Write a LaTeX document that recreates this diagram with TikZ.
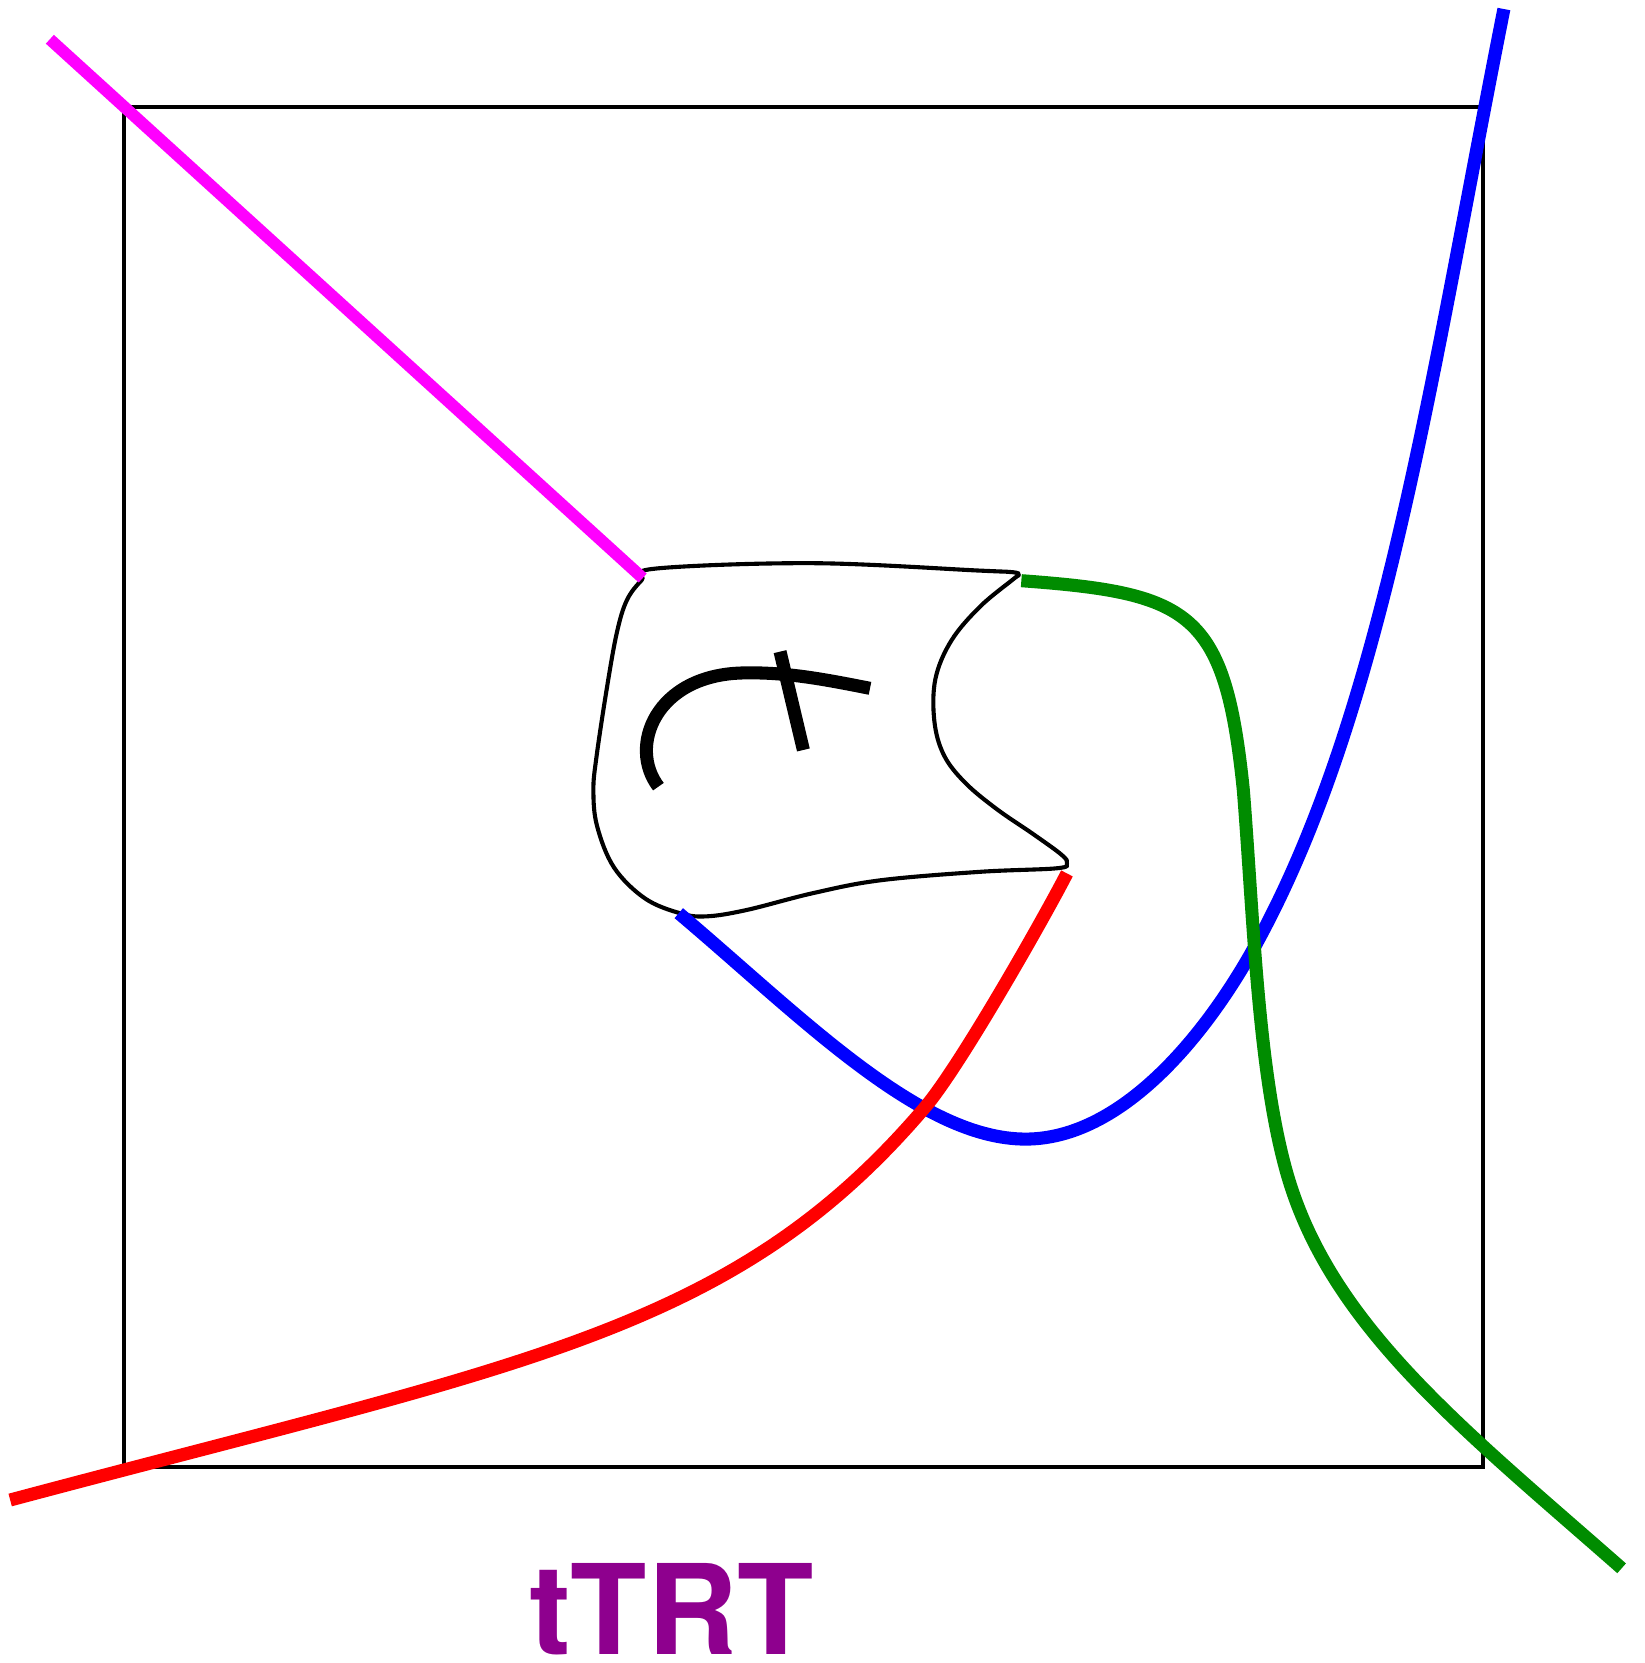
\documentclass[tikz,border=0pt]{standalone}
\usepackage{fontspec}
\usepackage{xcolor}
\usepackage{tikz}
\newfontfamily\tagfont{TeX Gyre Heros}
\definecolor{strandgreen}{RGB}{0,140,0}
\definecolor{strandmagenta}{RGB}{255,0,255}
\definecolor{tagpurple}{RGB}{142,0,142}

\begin{document}
\begin{tikzpicture}[
 x=0.01cm, y=-0.01cm,
 boxline/.style={draw=black, line width=1.1pt},
 tangle/.style={draw=black, line width=1.1pt},
 twist/.style={draw=black, line width=3.5pt},
 strand/.style={line width=3.5pt},
 tagtext/.style={font=\tagfont\bfseries\fontsize{33.5}{40}\selectfont, text=tagpurple, inner sep=0pt}
 ]
 \useasboundingbox (0,0) rectangle (1551,1568);
 % Frame
 \draw[boxline] (116.5,101) rectangle (1398.5,1383);
 % Ends of the strands on the tangle
 \coordinate (nw) at (606,545);
 \coordinate (ne) at (963,547.5);
 \coordinate (se) at (1006,823.5);
 \coordinate (sw) at (640,861);
 % Tangle boundary
 \draw[tangle] plot[smooth cycle, tension=0.6] coordinates {
  (619,536) (767,531) (924,538) (955,539.5) (960.5,542) (955.5,546)
  (924,572) (897,604) (882,640) (881,680) (890,712) (910,738) (940,763)
  (975,787) (1001,806) (1006,814) (996,818.7) (924,822) (830,830) (767,842)
  (704,858) (666,864) (641,861) (608,847) (579,818) (563,779) (559.5,745)
  (562.5,713) (572,650) (581.5,597) (591,566) (605,547)};
 % Twist inside
 \draw[twist] (620.8,741.7) .. controls (592,704) and (618,636.5) .. (700,634.5)
  .. controls (740,633.5) and (775,640) .. (820.3,649);
 \draw[twist] (735.5,614.4) -- (757.5,707.1);
 % Strands
 \draw[strand, blue] (1418,8.5) .. controls (1350,351) and (1305,669.5) .. (1185,889)
  .. controls (1137,977) and (1057,1074) .. (967,1074)
  .. controls (867,1074) and (754.6,957.8) .. (sw);
 \draw[strand, red] (9.6,1414.3) .. controls (492.6,1285.3) and (691.5,1257) .. (872.7,1043.4)
  .. controls (905,1005.2) and (983.1,868) .. (se);
 \draw[strand, strandgreen] (ne) .. controls (1123,559.3) and (1155,575.7) .. (1172.3,744.8)
  .. controls (1181.9,864.4) and (1185.9,1009.1) .. (1213.1,1105.3)
  .. controls (1253.9,1249.6) and (1378.8,1346.5) .. (1529,1478.7);
 \draw[strand, strandmagenta, line width=3.2pt] (47,37) -- (nw);
 % Name
 \node[tagtext, anchor=base] (name) at (633,1559.5) {tTRT};
\end{tikzpicture}
\end{document}
